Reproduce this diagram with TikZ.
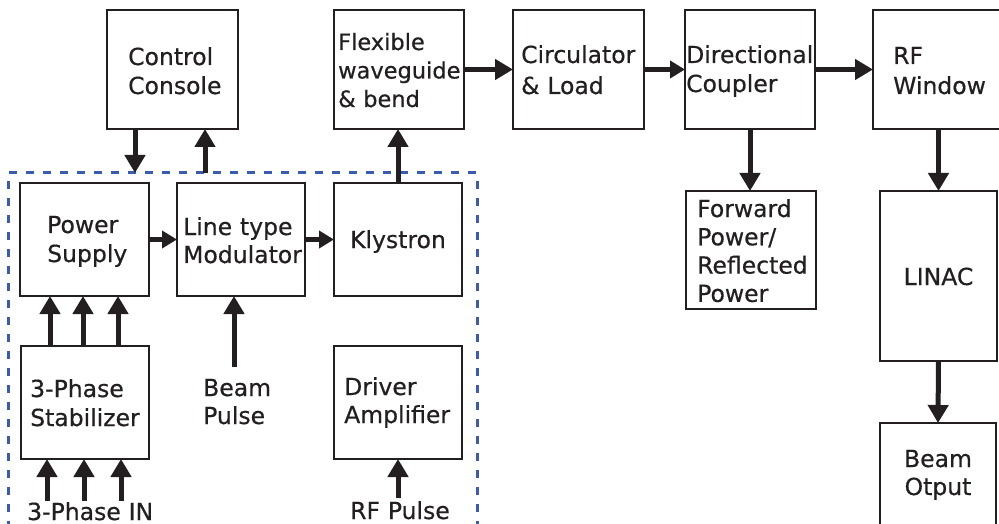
\documentclass[tikz,border=0pt]{standalone}
\usepackage{fontspec}
\setmainfont{DejaVu Sans}[FakeBold=0.5]
\usetikzlibrary{arrows.meta,fit}
\definecolor{ink}{HTML}{231F20}
\definecolor{grpblue}{HTML}{3A5BAF}
\tikzset{
  blk/.style={draw=ink, line width=1.6pt, inner sep=0pt, outer sep=0pt},
  grpframe/.style={draw=grpblue, line width=3pt, dash pattern=on 8pt off 9pt, inner sep=0pt, outer sep=0pt},
  txt/.style={font=\fontsize{23.5}{29}\selectfont, text=ink, align=left, text width=160pt, anchor=base west, inner sep=0pt},
  ctxt/.style={font=\fontsize{23.5}{28}\selectfont, text=ink, align=center, text width=116pt, anchor=base, inner sep=0pt},
  arr/.style={draw=ink, line width=5pt, -{Triangle[width=20pt,length=18pt]}},
  sarr/.style={draw=ink, line width=5pt, -{Triangle[width=17pt,length=15pt]}},
}
\begin{document}
\begin{tikzpicture}[x=1pt,y=-1pt]
\useasboundingbox (0,0) rectangle (999,524);
\clip (0,0) rectangle (999,524);

% modulator / klystron subsystem frame
\node[grpframe, fit={(8,173) (477,570)}] (grp) {};

% blocks
\node[blk, fit={(107,10) (238,129)}] (cc) {};
\node[blk, fit={(334,10) (464,129)}] (flex) {};
\node[blk, fit={(513,10) (644,129)}] (circ) {};
\node[blk, fit={(685,10) (815,129)}] (coup) {};
\node[blk, fit={(873,10) (1005,129)}] (rfw) {};
\node[blk, fit={(686,191) (816,309)}] (fwd) {};
\node[blk, fit={(880,191) (997,361)}] (linac) {};
\node[blk, fit={(880,423) (996,560)}] (bout) {};
\node[blk, fit={(20,183) (149,296)}] (ps) {};
\node[blk, fit={(177,183) (305,296)}] (mod) {};
\node[blk, fit={(334,183) (462,296)}] (kly) {};
\node[blk, fit={(21,346) (149,459)}] (stab) {};
\node[blk, fit={(334,346) (462,459)}] (drv) {};

% block labels
\node[txt] (cct) at (128,65) {Control\\Console};
\node[txt, font=\fontsize{22.5}{28.5}\selectfont] (flext) at (338,50) {Flexible\\waveguide\\\& bend};
\node[txt, font=\fontsize{23.5}{31}\selectfont] (circt) at (521,63) {Circulator\\\& Load};
\node[txt] (coupt) at (686,63) {Directional\\Coupler};
\node[txt, font=\fontsize{23.5}{30}\selectfont] (rfwt) at (893,64) {RF\\Window};
\node[txt, font=\fontsize{23.5}{28.3}\selectfont] (fwdt) at (697,217) {Forward\\Power/\\Reflected\\Power};
\node[ctxt] (linact) at (938.5,285) {LINAC};
\node[ctxt] (boutt) at (938,467) {Beam\\Otput};
\node[txt] (pst) at (47,233) {Power\\Supply};
\node[txt, font=\fontsize{23.5}{28}\selectfont] (modt) at (183,235) {Line type\\Modulator};
\node[ctxt] (klyt) at (398,248) {Klystron};
\node[txt] (stabt) at (30,397) {3-Phase\\Stabilizer};
\node[txt, font=\fontsize{23.5}{28}\selectfont] (drvt) at (344,395) {Driver\\Amplifier};

% external inputs
\node[txt, font=\fontsize{23.5}{28}\selectfont] (beamp) at (203,396) {Beam\\Pulse};
\node[txt] (in3) at (27,520) {3-Phase IN};
\node[txt] (rfp) at (350,519) {RF Pulse};

\coordinate (in3a) at (47,501);
\coordinate (in3b) at (84,501);
\coordinate (in3c) at (121,501);
\coordinate (bpin) at (234,367);
\coordinate (rfin) at (398,498);

% control console links
\draw[arr] ([xshift=-37.5pt]cc.south) -- ([xshift=-37.5pt]cc.south |- grp.north);
\draw[arr] ([xshift=32.5pt]cc.south |- grp.north) -- ([xshift=32.5pt]cc.south);

% RF chain
\draw[arr] (kly.north) -- (kly.north |- flex.south);
\draw[arr] (flex.east) -- (circ.west);
\draw[sarr] (circ.east) -- (coup.west);
\draw[arr] (coup.east) -- (rfw.west);
\draw[arr] (coup.south) -- (coup.south |- fwd.north);
\draw[arr] (linac.north |- rfw.south) -- (linac.north);
\draw[arr] (linac.south) -- (bout.north);

% modulator chain
\draw[sarr] (ps.east) -- (mod.west);
\draw[sarr] (mod.east) -- (kly.west);
\foreach \dx in {-34.5,-1.5,33.5}
  \draw[arr] ([xshift=\dx pt]ps.south |- stab.north) -- ([xshift=\dx pt]ps.south);
\foreach \c in {in3a,in3b,in3c}
  \draw[arr] (\c) -- (\c |- stab.south);
\draw[arr] (bpin) -- (bpin |- mod.south);
\draw[arr] (rfin) -- (rfin |- drv.south);
\end{tikzpicture}
\end{document}
